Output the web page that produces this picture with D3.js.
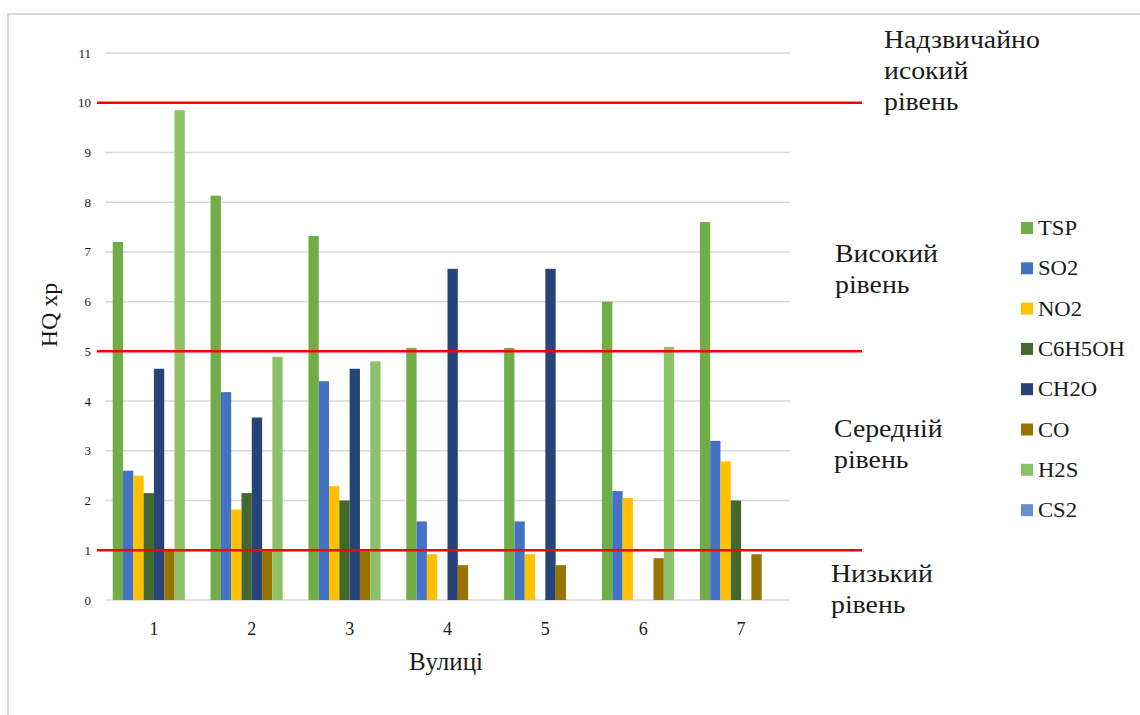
<!DOCTYPE html>
<html>
<head>
<meta charset="utf-8">
<script src="https://cdn.jsdelivr.net/npm/d3@7"></script>
<style>
  html, body { margin: 0; padding: 0; background: #fff; }
  svg { display: block; }
</style>
</head>
<body>
<svg id="chart" width="1140" height="715" fill="#1a1a1a"></svg>
<script>
// Streets (categories)
const streets = ["1", "2", "3", "4", "5", "6", "7"];

// Pollutants (series) and their colours
const pollutants = ["TSP", "SO2", "NO2", "C6H5OH", "CH2O", "CO", "H2S", "CS2"];
const colors = ["#70ad47", "#4472c4", "#ffc000", "#43682b", "#264478", "#997300", "#8cc168", "#698ed0"];

// HQ values per pollutant, one value per street
const TSP    = [7.2, 8.13, 7.32, 5.07, 5.07, 6.0, 7.6];
const SO2    = [2.6, 4.18, 4.4, 1.58, 1.58, 2.19, 3.2];
const NO2    = [2.5, 1.82, 2.29, 0.92, 0.92, 2.05, 2.79];
const C6H5OH = [2.15, 2.15, 2.0, 0, 0, 0, 2.0];
const CH2O   = [4.65, 3.67, 4.65, 6.66, 6.66, 0, 0];
const CO     = [1.03, 0.98, 0.98, 0.7, 0.7, 0.84, 0.92];
const H2S    = [9.85, 4.89, 4.8, 0, 0, 5.09, 0];
const CS2    = [0, 0, 0, 0, 0, 0, 0];

// Risk level thresholds and their labels
const thresholds = [10, 5, 1];
const levelLabels = [
  ["Надзвичайно", "исокий", "рівень"],
  ["Високий", "рівень"],
  ["Середній", "рівень"],
  ["Низький", "рівень"]
];

// Y axis ticks
const yTicks = d3.range(0, 12);

const seriesValues = [TSP, SO2, NO2, C6H5OH, CH2O, CO, H2S, CS2];
const rows = streets.map((s, i) => ({
  street: s,
  values: pollutants.map((p, j) => ({ key: p, value: seriesValues[j][i], color: colors[j] }))
}));

const svg = d3.select("#chart");
const FONT = "'Liberation Serif', serif";

// Outer frame (left and top edges)
svg.append("path")
  .attr("d", "M8,715 V14 H1140")
  .attr("fill", "none")
  .attr("stroke", "#d9d9d9")
  .attr("stroke-width", 2);

const x0 = d3.scaleBand().domain(streets).range([105, 790]).paddingInner(0.158).paddingOuter(0.079);
const x1 = d3.scaleBand().domain(pollutants).range([0, x0.bandwidth()]);
const y = d3.scaleLinear().domain([0, 11]).range([600, 53]);

// Gridlines
svg.append("g")
  .selectAll("line")
  .data(yTicks)
  .join("line")
  .attr("x1", 105).attr("x2", 790)
  .attr("y1", d => y(d)).attr("y2", d => y(d))
  .attr("stroke", "#d9d9d9")
  .attr("stroke-width", 1.5);

// Y tick labels
svg.append("g")
  .selectAll("text")
  .data(yTicks)
  .join("text")
  .attr("x", 91)
  .attr("y", d => y(d) + 4.5)
  .attr("text-anchor", "end")
  .style("font-family", FONT)
  .attr("font-size", 13)
  .text(d => d);

// Bars
svg.append("g")
  .selectAll("g")
  .data(rows)
  .join("g")
  .attr("transform", d => `translate(${x0(d.street)},0)`)
  .selectAll("rect")
  .data(d => d.values)
  .join("rect")
  .attr("x", d => x1(d.key))
  .attr("width", x1.bandwidth())
  .attr("y", d => y(d.value))
  .attr("height", d => y(0) - y(d.value))
  .attr("fill", d => d.color);

// X tick labels
svg.append("g")
  .selectAll("text")
  .data(streets)
  .join("text")
  .attr("x", d => x0(d) + x0.bandwidth() / 2)
  .attr("y", 635)
  .attr("text-anchor", "middle")
  .style("font-family", FONT)
  .attr("font-size", 18)
  .text(d => d);

// Axis titles
svg.append("text")
  .attr("x", 446).attr("y", 670)
  .attr("text-anchor", "middle")
  .style("font-family", FONT)
  .attr("font-size", 25)
  .text("Вулиці");

svg.append("text")
  .attr("transform", "translate(57,315) rotate(-90)")
  .attr("text-anchor", "middle")
  .style("font-family", FONT)
  .attr("font-size", 24)
  .text("HQ xp");

// Threshold lines
svg.append("g")
  .selectAll("line")
  .data(thresholds)
  .join("line")
  .attr("x1", 97).attr("x2", 862)
  .attr("y1", d => y(d)).attr("y2", d => y(d))
  .attr("stroke", "#ff0000")
  .attr("stroke-width", 2.5);

// Level labels (text is slightly widened horizontally)
const labelPos = [
  { x: 884, y: 48 },
  { x: 835, y: 262 },
  { x: 834, y: 437 },
  { x: 831, y: 582 }
];
levelLabels.forEach((lines, i) => {
  const t = svg.append("text")
    .attr("transform", `translate(${labelPos[i].x},${labelPos[i].y}) scale(1.07,1)`)
    .style("font-family", FONT)
    .attr("font-size", 26);
  t.selectAll("tspan")
    .data(lines)
    .join("tspan")
    .attr("x", 0)
    .attr("dy", (d, k) => k === 0 ? 0 : 31)
    .text(d => d);
});

// Legend
const legend = svg.append("g")
  .selectAll("g")
  .data(pollutants)
  .join("g")
  .attr("transform", (d, i) => `translate(1021,${228 + i * 40.3})`);
legend.append("rect")
  .attr("x", 0).attr("y", -6)
  .attr("width", 12).attr("height", 12)
  .attr("fill", (d, i) => colors[i]);
legend.append("text")
  .attr("transform", "translate(17,7) scale(1.08,1)")
  .style("font-family", FONT)
  .attr("font-size", 21)
  .text(d => d);
</script>
</body>
</html>
